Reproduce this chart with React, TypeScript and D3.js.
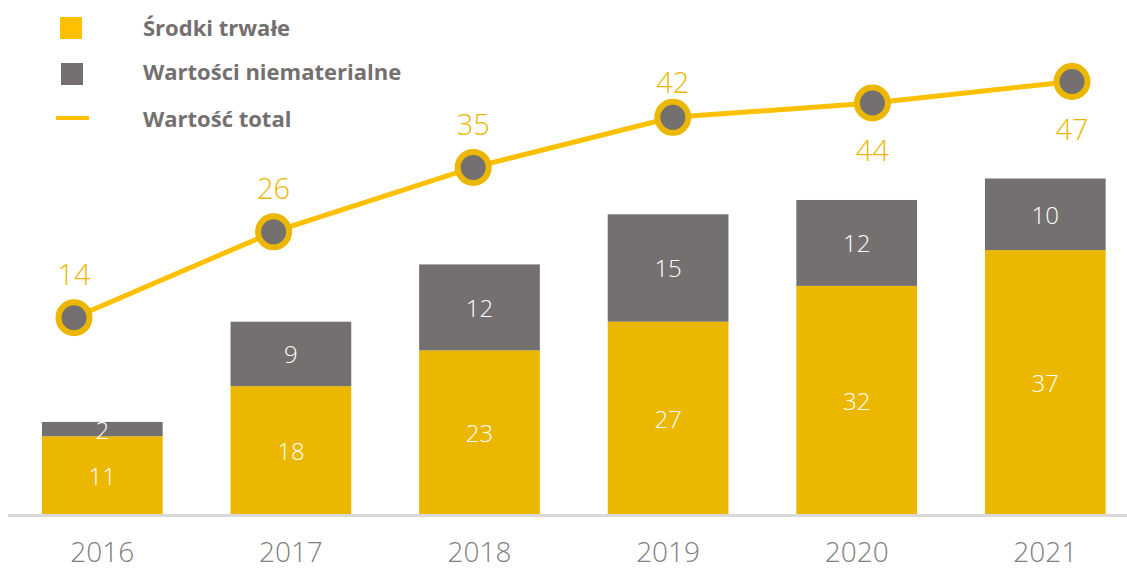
import React from 'react';
import * as d3 from 'd3';

const years = ['2016', '2017', '2018', '2019', '2020', '2021'];
const srodkiTrwale = [11, 18, 23, 27, 32, 37];
const wartosciNiematerialne = [2, 9, 12, 15, 12, 10];
const wartoscTotal = [14, 26, 35, 42, 44, 47];
const totalLabelSide = ['above', 'above', 'above', 'above', 'below', 'below'];
const legendLabels = ['Środki trwałe', 'Wartości niematerialne', 'Wartość total'];

const W = 1127;
const H = 569;
const YELLOW = '#EBB700';
const YELLOW_BRIGHT = '#FFC000';
const GREY = '#747070';
const FONT = "'Open Sans', sans-serif";

export default function App() {
  const x = d3.scaleBand<string>().domain(years).range([8, 1139.6]).paddingInner(0.36).paddingOuter(0.18);
  const y = d3.scaleLinear().domain([0, 47]).range([515, 178.5]);
  const xl = d3.scalePoint<string>().domain(years).range([74, 1072]);
  const yl = d3.scaleLinear().domain([0, 47]).range([418, 81.5]);

  const lineGen = d3.line<number>()
    .x((_, i) => xl(years[i]) as number)
    .y((d) => yl(d));

  return (
    <svg width={W} height={H} style={{ position: 'absolute', left: 0, top: 0, display: 'block', background: '#fff' }}>
      {/* bars */}
      {years.map((yr, i) => {
        const x0 = x(yr) as number;
        const bw = x.bandwidth();
        const a = srodkiTrwale[i];
        const b = wartosciNiematerialne[i];
        return (
          <g key={yr}>
            <rect x={x0} y={y(a)} width={bw} height={y(0) - y(a)} fill={YELLOW} />
            <rect x={x0} y={y(a + b)} width={bw} height={y(a) - y(a + b)} fill={GREY} />
            <text x={x0 + bw / 2} y={(y(0) + y(a)) / 2} textAnchor="middle" dominantBaseline="central"
              fill="#fff" fontFamily={FONT} fontWeight={300} fontSize={24}>{a}</text>
            <text x={x0 + bw / 2} y={(y(a) + y(a + b)) / 2} textAnchor="middle" dominantBaseline="central"
              fill="#fff" fontFamily={FONT} fontWeight={300} fontSize={24}>{b}</text>
          </g>
        );
      })}
      {/* axis */}
      <line x1={8} x2={W} y1={515.5} y2={515.5} stroke="#D9D9D9" strokeWidth={3} />
      {years.map((yr) => (
        <text key={yr} x={(x(yr) as number) + x.bandwidth() / 2} y={562} textAnchor="middle"
          fill="#808080" fontFamily={FONT} fontWeight={300} fontSize={28}>{yr}</text>
      ))}
      {/* line */}
      <path d={lineGen(wartoscTotal) || ''} fill="none" stroke={YELLOW_BRIGHT} strokeWidth={5} />
      {wartoscTotal.map((v, i) => {
        const cx = xl(years[i]) as number;
        const cy = yl(v);
        const above = totalLabelSide[i] === 'above';
        const ly = above ? Math.max(cy - 44, 81) : cy + 47;
        return (
          <g key={years[i]}>
            <circle cx={cx} cy={cy} r={15.5} fill={GREY} stroke={YELLOW} strokeWidth={6} />
            <text x={cx} y={ly} textAnchor="middle" dominantBaseline="central"
              fill={YELLOW} fontFamily={FONT} fontWeight={300} fontSize={29}>{v}</text>
          </g>
        );
      })}
      {/* legend */}
      <rect x={60} y={17} width={22} height={22} fill={YELLOW_BRIGHT} />
      <rect x={61} y={63} width={22} height={22} fill={GREY} />
      <line x1={56} x2={89} y1={118} y2={118} stroke={YELLOW_BRIGHT} strokeWidth={4} />
      {legendLabels.map((t, i) => (
        <text key={t} x={143} y={[36, 80, 127][i]} fill={GREY} fontFamily={FONT} fontWeight={700} fontSize={22}>{t}</text>
      ))}
    </svg>
  );
}
